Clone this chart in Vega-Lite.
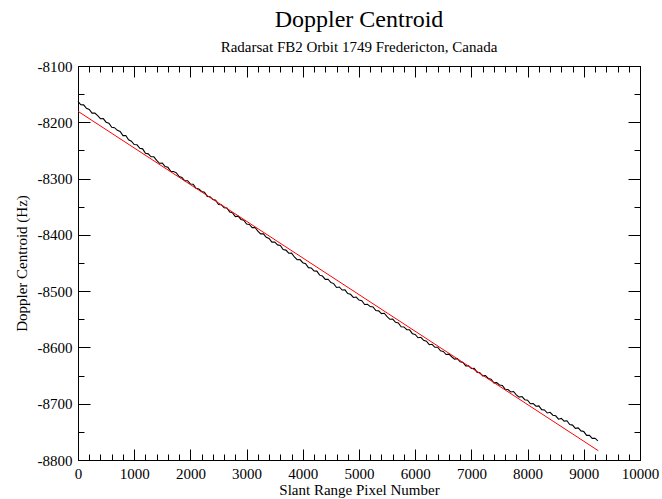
{
  "$schema": "https://vega.github.io/schema/vega-lite/v6.json",
  "width": 562,
  "height": 394,
  "autosize": {"type": "none"},
  "padding": {"left": 78, "top": 66, "right": 22, "bottom": 39},
  "background": "white",
  "title": {
    "text": "Doppler Centroid",
    "subtitle": "Radarsat FB2 Orbit 1749 Fredericton, Canada",
    "font": "Liberation Serif",
    "fontSize": 24,
    "fontWeight": "normal",
    "color": "black",
    "subtitleFont": "Liberation Serif",
    "subtitleFontSize": 15,
    "subtitleColor": "black",
    "subtitlePadding": 8,
    "anchor": "middle",
    "offset": 4
  },
  "config": {
    "font": "Liberation Serif",
    "view": {"stroke": "black", "strokeWidth": 1}
  },
  "datasets": {
    "measured": [
      {"pixel":0,"doppler":-8163.0},{"pixel":50,"doppler":-8168.9},{"pixel":100,"doppler":-8169.0},{"pixel":150,"doppler":-8175.3},
      {"pixel":200,"doppler":-8177.1},{"pixel":250,"doppler":-8183.7},{"pixel":300,"doppler":-8183.7},{"pixel":350,"doppler":-8188.1},
      {"pixel":400,"doppler":-8193.7},{"pixel":450,"doppler":-8193.5},{"pixel":500,"doppler":-8199.8},{"pixel":550,"doppler":-8201.5},
      {"pixel":600,"doppler":-8209.0},{"pixel":650,"doppler":-8209.6},{"pixel":700,"doppler":-8214.4},{"pixel":750,"doppler":-8216.2},
      {"pixel":800,"doppler":-8223.6},{"pixel":850,"doppler":-8223.4},{"pixel":900,"doppler":-8231.1},{"pixel":950,"doppler":-8233.6},
      {"pixel":1000,"doppler":-8239.6},{"pixel":1050,"doppler":-8240.0},{"pixel":1100,"doppler":-8246.2},{"pixel":1150,"doppler":-8247.2},
      {"pixel":1200,"doppler":-8255.0},{"pixel":1250,"doppler":-8256.1},{"pixel":1300,"doppler":-8261.3},{"pixel":1350,"doppler":-8261.3},
      {"pixel":1400,"doppler":-8267.6},{"pixel":1450,"doppler":-8272.8},{"pixel":1500,"doppler":-8272.5},{"pixel":1550,"doppler":-8278.6},
      {"pixel":1600,"doppler":-8280.0},{"pixel":1650,"doppler":-8287.2},{"pixel":1700,"doppler":-8287.4},{"pixel":1750,"doppler":-8289.8},
      {"pixel":1800,"doppler":-8296.5},{"pixel":1850,"doppler":-8298.1},{"pixel":1900,"doppler":-8303.9},{"pixel":1950,"doppler":-8303.8},
      {"pixel":2000,"doppler":-8309.6},{"pixel":2050,"doppler":-8310.0},{"pixel":2100,"doppler":-8317.4},{"pixel":2150,"doppler":-8318.6},
      {"pixel":2200,"doppler":-8323.0},{"pixel":2250,"doppler":-8324.3},{"pixel":2300,"doppler":-8331.7},{"pixel":2350,"doppler":-8332.2},
      {"pixel":2400,"doppler":-8337.3},{"pixel":2450,"doppler":-8338.5},{"pixel":2500,"doppler":-8346.1},{"pixel":2550,"doppler":-8346.4},
      {"pixel":2600,"doppler":-8351.8},{"pixel":2650,"doppler":-8352.2},{"pixel":2700,"doppler":-8359.3},{"pixel":2750,"doppler":-8360.9},
      {"pixel":2800,"doppler":-8367.5},{"pixel":2850,"doppler":-8366.8},{"pixel":2900,"doppler":-8372.6},{"pixel":2950,"doppler":-8374.1},
      {"pixel":3000,"doppler":-8380.9},{"pixel":3050,"doppler":-8381.6},{"pixel":3100,"doppler":-8387.1},{"pixel":3150,"doppler":-8387.0},
      {"pixel":3200,"doppler":-8393.5},{"pixel":3250,"doppler":-8398.3},{"pixel":3300,"doppler":-8398.2},{"pixel":3350,"doppler":-8404.3},
      {"pixel":3400,"doppler":-8406.3},{"pixel":3450,"doppler":-8412.9},{"pixel":3500,"doppler":-8412.6},{"pixel":3550,"doppler":-8417.8},
      {"pixel":3600,"doppler":-8418.9},{"pixel":3650,"doppler":-8426.2},{"pixel":3700,"doppler":-8427.1},{"pixel":3750,"doppler":-8432.6},
      {"pixel":3800,"doppler":-8432.5},{"pixel":3850,"doppler":-8439.3},{"pixel":3900,"doppler":-8444.1},{"pixel":3950,"doppler":-8443.9},
      {"pixel":4000,"doppler":-8449.4},{"pixel":4050,"doppler":-8451.3},{"pixel":4100,"doppler":-8458.3},{"pixel":4150,"doppler":-8458.8},
      {"pixel":4200,"doppler":-8464.0},{"pixel":4250,"doppler":-8464.4},{"pixel":4300,"doppler":-8471.6},{"pixel":4350,"doppler":-8473.2},
      {"pixel":4400,"doppler":-8479.1},{"pixel":4450,"doppler":-8478.8},{"pixel":4500,"doppler":-8484.7},{"pixel":4550,"doppler":-8486.6},
      {"pixel":4600,"doppler":-8493.5},{"pixel":4650,"doppler":-8492.6},{"pixel":4700,"doppler":-8498.0},{"pixel":4750,"doppler":-8497.8},
      {"pixel":4800,"doppler":-8504.4},{"pixel":4850,"doppler":-8505.6},{"pixel":4900,"doppler":-8511.2},{"pixel":4950,"doppler":-8510.5},
      {"pixel":5000,"doppler":-8515.9},{"pixel":5050,"doppler":-8517.1},{"pixel":5100,"doppler":-8523.7},{"pixel":5150,"doppler":-8523.3},
      {"pixel":5200,"doppler":-8527.4},{"pixel":5250,"doppler":-8528.0},{"pixel":5300,"doppler":-8534.5},{"pixel":5350,"doppler":-8535.1},
      {"pixel":5400,"doppler":-8539.9},{"pixel":5450,"doppler":-8539.3},{"pixel":5500,"doppler":-8545.2},{"pixel":5550,"doppler":-8550.0},
      {"pixel":5600,"doppler":-8549.6},{"pixel":5650,"doppler":-8555.3},{"pixel":5700,"doppler":-8556.5},{"pixel":5750,"doppler":-8563.4},
      {"pixel":5800,"doppler":-8563.6},{"pixel":5850,"doppler":-8568.6},{"pixel":5900,"doppler":-8568.7},{"pixel":5950,"doppler":-8575.6},
      {"pixel":6000,"doppler":-8576.9},{"pixel":6050,"doppler":-8582.8},{"pixel":6100,"doppler":-8582.0},{"pixel":6150,"doppler":-8587.4},
      {"pixel":6200,"doppler":-8588.8},{"pixel":6250,"doppler":-8595.1},{"pixel":6300,"doppler":-8594.4},{"pixel":6350,"doppler":-8599.7},
      {"pixel":6400,"doppler":-8599.6},{"pixel":6450,"doppler":-8606.1},{"pixel":6500,"doppler":-8607.2},{"pixel":6550,"doppler":-8612.6},
      {"pixel":6600,"doppler":-8611.9},{"pixel":6650,"doppler":-8616.6},{"pixel":6700,"doppler":-8620.7},{"pixel":6750,"doppler":-8620.0},
      {"pixel":6800,"doppler":-8625.6},{"pixel":6850,"doppler":-8626.6},{"pixel":6900,"doppler":-8632.8},{"pixel":6950,"doppler":-8632.6},
      {"pixel":7000,"doppler":-8637.4},{"pixel":7050,"doppler":-8637.1},{"pixel":7100,"doppler":-8643.9},{"pixel":7150,"doppler":-8644.9},
      {"pixel":7200,"doppler":-8650.5},{"pixel":7250,"doppler":-8649.9},{"pixel":7300,"doppler":-8655.1},{"pixel":7350,"doppler":-8656.3},
      {"pixel":7400,"doppler":-8663.0},{"pixel":7450,"doppler":-8662.6},{"pixel":7500,"doppler":-8666.8},{"pixel":7550,"doppler":-8667.5},
      {"pixel":7600,"doppler":-8674.2},{"pixel":7650,"doppler":-8674.7},{"pixel":7700,"doppler":-8679.2},{"pixel":7750,"doppler":-8678.3},
      {"pixel":7800,"doppler":-8684.2},{"pixel":7850,"doppler":-8688.3},{"pixel":7900,"doppler":-8687.3},{"pixel":7950,"doppler":-8692.9},
      {"pixel":8000,"doppler":-8693.7},{"pixel":8050,"doppler":-8700.1},{"pixel":8100,"doppler":-8699.8},{"pixel":8150,"doppler":-8704.4},
      {"pixel":8200,"doppler":-8703.9},{"pixel":8250,"doppler":-8710.5},{"pixel":8300,"doppler":-8711.1},{"pixel":8350,"doppler":-8716.5},
      {"pixel":8400,"doppler":-8715.3},{"pixel":8450,"doppler":-8720.4},{"pixel":8500,"doppler":-8721.5},{"pixel":8550,"doppler":-8727.5},
      {"pixel":8600,"doppler":-8726.1},{"pixel":8650,"doppler":-8730.9},{"pixel":8700,"doppler":-8730.3},{"pixel":8750,"doppler":-8737.0},
      {"pixel":8800,"doppler":-8738.0},{"pixel":8850,"doppler":-8743.7},{"pixel":8900,"doppler":-8743.0},{"pixel":8950,"doppler":-8748.3},
      {"pixel":9000,"doppler":-8749.5},{"pixel":9050,"doppler":-8756.3},{"pixel":9100,"doppler":-8756.3},{"pixel":9150,"doppler":-8761.5},
      {"pixel":9200,"doppler":-8761.3},{"pixel":9250,"doppler":-8766.0}
    ],
    "fit": [
      {"pixel":0,"doppler":-8180.5},
      {"pixel":9258,"doppler":-8783.5}
    ]
  },
  "encoding": {
    "x": {"field": "pixel", "type": "quantitative", "scale": {"domain": [0, 10000], "nice": false, "zero": false}},
    "y": {"field": "doppler", "type": "quantitative", "scale": {"domain": [-8800, -8100], "nice": false, "zero": false}}
  },
  "layer": [
    {
      "data": {"name": "measured"},
      "mark": {"type": "line", "color": "black", "strokeWidth": 1.1},
      "encoding": {
        "x": {
          "field": "pixel", "type": "quantitative",
          "axis": {
            "orient": "bottom",
            "values": [0,200,400,600,800,1000,1200,1400,1600,1800,2000,2200,2400,2600,2800,3000,3200,3400,3600,3800,4000,4200,4400,4600,4800,5000,5200,5400,5600,5800,6000,6200,6400,6600,6800,7000,7200,7400,7600,7800,8000,8200,8400,8600,8800,9000,9200,9400,9600,9800,10000],
            "labelExpr": "datum.value % 1000 === 0 ? '' + datum.value : ''",
            "labelOverlap": false, "labelFlush": false, "labelBound": false,
            "labelFont": "Liberation Serif", "labelFontSize": 15, "labelColor": "black", "labelPadding": 17,
            "tickSize": {"condition": {"test": "datum.value % 1000 === 0", "value": -11}, "value": -6},
            "tickColor": "black", "tickWidth": 1,
            "domainColor": "black", "grid": false,
            "title": "Slant Range Pixel Number", "titleFont": "Liberation Serif", "titleFontSize": 15, "titleFontWeight": "normal", "titleColor": "black", "titlePadding": -4
          }
        },
        "y": {
          "field": "doppler", "type": "quantitative",
          "axis": {
            "orient": "left",
            "values": [-8800,-8750,-8700,-8650,-8600,-8550,-8500,-8450,-8400,-8350,-8300,-8250,-8200,-8150,-8100],
            "labelExpr": "datum.value % 100 === 0 ? '' + datum.value : ''",
            "labelOverlap": false, "labelFlush": false, "labelBound": false,
            "labelFont": "Liberation Serif", "labelFontSize": 15, "labelColor": "black", "labelPadding": 18,
            "tickSize": {"condition": {"test": "datum.value % 100 === 0", "value": -12}, "value": -6},
            "tickColor": "black", "tickWidth": 1,
            "domainColor": "black", "grid": false,
            "title": "Doppler Centroid (Hz)", "titleFont": "Liberation Serif", "titleFontSize": 15, "titleFontWeight": "normal", "titleColor": "black", "titlePadding": 8
          }
        }
      }
    },
    {
      "data": {"name": "fit"},
      "mark": {"type": "line", "color": "#ff0000", "strokeWidth": 1},
      "encoding": {
        "x": {
          "field": "pixel", "type": "quantitative",
          "axis": {
            "orient": "top",
            "values": [0,200,400,600,800,1000,1200,1400,1600,1800,2000,2200,2400,2600,2800,3000,3200,3400,3600,3800,4000,4200,4400,4600,4800,5000,5200,5400,5600,5800,6000,6200,6400,6600,6800,7000,7200,7400,7600,7800,8000,8200,8400,8600,8800,9000,9200,9400,9600,9800,10000],
            "labels": false, "title": null,
            "tickSize": {"condition": {"test": "datum.value % 1000 === 0", "value": -11}, "value": -6},
            "tickColor": "black", "tickWidth": 1,
            "domainColor": "black", "grid": false
          }
        },
        "y": {
          "field": "doppler", "type": "quantitative",
          "axis": {
            "orient": "right",
            "values": [-8800,-8750,-8700,-8650,-8600,-8550,-8500,-8450,-8400,-8350,-8300,-8250,-8200,-8150,-8100],
            "labels": false, "title": null,
            "tickSize": {"condition": {"test": "datum.value % 100 === 0", "value": -12}, "value": -6},
            "tickColor": "black", "tickWidth": 1,
            "domainColor": "black", "grid": false
          }
        }
      }
    }
  ],
  "resolve": {"axis": {"x": "independent", "y": "independent"}}
}
